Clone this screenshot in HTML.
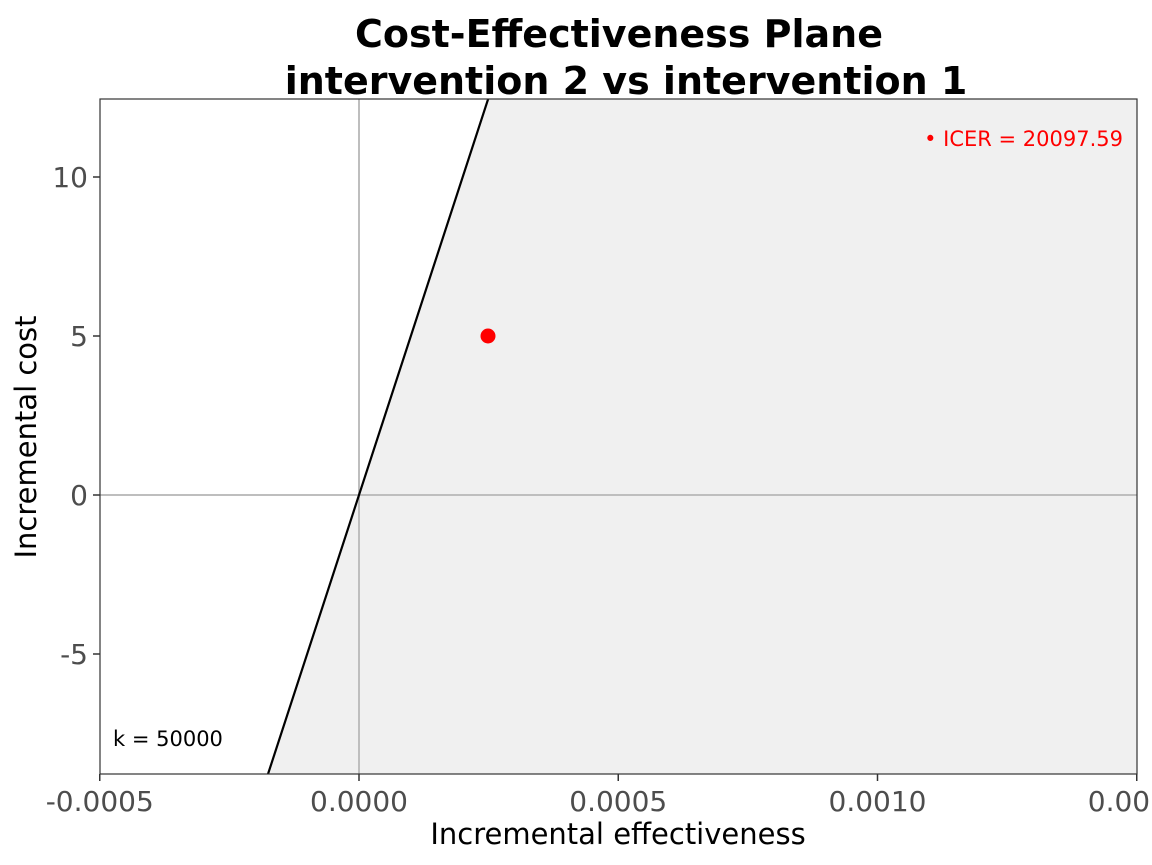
<!DOCTYPE html>
<html><head><meta charset="utf-8"><style>
html,body{margin:0;padding:0;background:#fff;}
svg{display:block;font-family:"DejaVu Sans","Liberation Sans",sans-serif;}
</style></head><body>
<svg id="chart" width="1152" height="865" viewBox="0 0 1152 865">
<defs><clipPath id="pc"><rect x="100" y="99" width="1037" height="675"/></clipPath></defs>
<text x="619" y="47" text-anchor="middle" font-size="38" font-weight="bold">Cost-Effectiveness Plane</text>
<text x="626" y="94" text-anchor="middle" font-size="38" font-weight="bold">intervention 2 vs intervention 1</text>
<g id="plot" clip-path="url(#pc)"></g>
<rect x="100" y="99" width="1037" height="675" fill="none" stroke="#333" stroke-width="1.2"/>
<g id="axes"></g>
<text x="618" y="844" text-anchor="middle" font-size="29">Incremental effectiveness</text>
<text transform="translate(36,437) rotate(-90)" text-anchor="middle" font-size="29">Incremental cost</text>
</svg>
<script>
const xTicks=[-0.0005,0,0.0005,0.001,0.0015];
const xTickLabels=["-0.0005","0.0000","0.0005","0.0010","0.0015"];
const yTicks=[-5,0,5,10];
const yTickLabels=["-5","0","5","10"];
const deltaE=[0.0002488];
const deltaC=[5.0];
const wtpK=[50000];
const icerLabels=["• ICER = 20097.59"];

const NS="http://www.w3.org/2000/svg";
const X=v=>359+(v-0)*(518.5/0.001);
const Y=v=>495-v*31.8;
const xMin=-0.0005,xMax=0.0015,yMin=(495-774)/31.8,yMax=(495-99)/31.8;
function mk(tag,attrs,parent,txt){const e=document.createElementNS(NS,tag);for(const k in attrs)e.setAttribute(k,attrs[k]);if(txt!=null)e.textContent=txt;parent.appendChild(e);return e;}
const plot=document.getElementById('plot'),axes=document.getElementById('axes');
const k=wtpK[0];
const eTop=yMax/k,eBot=yMin/k;
const shade=mk('polygon',{points:`${X(eTop)},${Y(yMax)} ${X(xMax)},${Y(yMax)} ${X(xMax)},${Y(yMin)} ${X(eBot)},${Y(yMin)}`,fill:'#f0f0f0'},plot);


const vz=mk('line',{x1:X(0),x2:X(0),y1:99,y2:774,stroke:'#bebebe','stroke-width':2},plot);


const hz=mk('line',{x1:100,x2:1137,y1:Y(0),y2:Y(0),stroke:'#bebebe','stroke-width':2},plot);


const wl=mk('line',{x1:X(eBot),y1:Y(yMin),x2:X(eTop),y2:Y(yMax),stroke:'#000','stroke-width':2.2},plot);


deltaE.forEach((e,i)=>{
 const c=mk('circle',{cx:X(e),cy:Y(deltaC[i]),r:7.5,fill:'#ff0000'},plot);
 
 
 const t=mk('text',{x:1123,y:146,'text-anchor':'end','font-size':21,fill:'#ff0000'},plot,icerLabels[i]);
 
 
});
const kl=mk('text',{x:113,y:746,'font-size':21,fill:'#000'},plot,'k = '+k);


xTicks.forEach((v,i)=>{
 const x=X(v);
 const tk=mk('line',{x1:x,x2:x,y1:774,y2:781,stroke:'#333','stroke-width':1.5},axes);
 
 
 const t=mk('text',{x:x,y:811,'text-anchor':'middle','font-size':28,fill:'#4d4d4d'},axes,xTickLabels[i]);
 
 
});
yTicks.forEach((v,i)=>{
 const y=Y(v);
 const tk=mk('line',{x1:93,x2:100,y1:y,y2:y,stroke:'#333','stroke-width':1.5},axes);
 
 
 const t=mk('text',{x:88,y:y+10,'text-anchor':'end','font-size':28,fill:'#4d4d4d'},axes,yTickLabels[i]);
 
 
});
</script>
</body></html>
